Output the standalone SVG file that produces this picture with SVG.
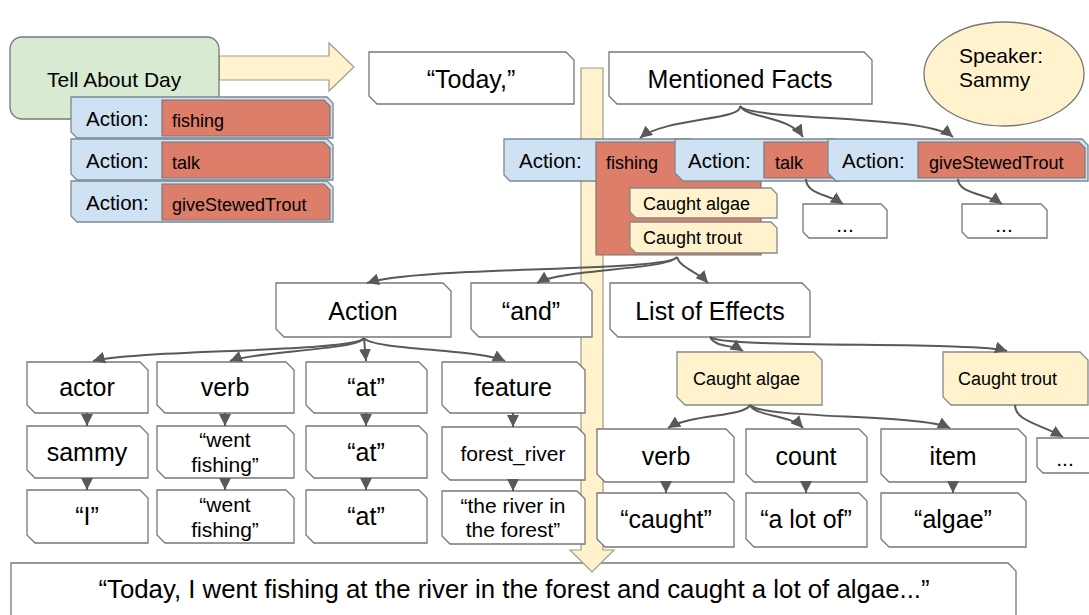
<svg xmlns="http://www.w3.org/2000/svg" width="1089" height="615" viewBox="0 0 1089 615">
  <style>
    .box { fill: #ffffff; stroke: #777777; stroke-width: 1.3; }
    .blue { fill: #cfe2f3; stroke: #7d8790; stroke-width: 1.3; }
    .red { fill: #dd7e6b; stroke: #777777; stroke-width: 1.2; }
    .yel { fill: #fff2cc; stroke: #888888; stroke-width: 1.3; }
    .big { fill: #fff2cc; stroke: #a09a8a; stroke-width: 1.2; }
    text { font-family: "Liberation Sans", Arial, sans-serif; fill: #000000; }
    .t25 { font-size: 25px; text-anchor: middle; }
    .t21 { font-size: 21px; text-anchor: middle; }
    .t20 { font-size: 20.5px; }
    .t18 { font-size: 18px; }
    .edge { fill: none; stroke: #595959; stroke-width: 2; marker-end: url(#head); }
  </style>
  <defs>
    <marker id="head" markerUnits="userSpaceOnUse" markerWidth="13" markerHeight="12" refX="12" refY="6" orient="auto">
      <path d="M0,0 L12,6 L0,12 Z" fill="#595959"/>
    </marker>
  </defs>

  <!-- bottom sentence -->
  <g id="sentence">
    <path class="box" d="M11,563 H1008 L1016,571 V625 H11 Z"/>
    <text x="514" y="598" style="font-size:25.8px;text-anchor:middle">“Today, I went fishing at the river in the forest and caught a lot of algae...”</text>
  </g>

  <!-- big flow arrows -->
  <g id="flow-arrows">
    <polygon class="big" points="581,68 603,68 603,550 614,550 592,572 570,550 581,550"/>
    <polygon class="big" points="219,56 329,56 329,43 354,67 329,91 329,80 219,80"/>
  </g>

  <!-- task -->
  <g id="tell-about-day">
    <rect x="10" y="37" width="209" height="82" rx="12" fill="#d9ead3" stroke="#777777" stroke-width="1.3"/>
    <text x="47" y="87" style="font-size:21px">Tell About Day</text>
  </g>
  <g id="left-action-fishing">
    <path class="blue" d="M71,97 H327 L333,103 V138 H77 L71,132 Z"/>
    <path class="red" d="M162,100 H324 L330,106 V136 H162 Z"/>
    <text class="t20" x="86" y="126">Action:</text>
    <text class="t18" x="172" y="127">fishing</text>
  </g>
  <g id="left-action-talk">
    <path class="blue" d="M71,139 H327 L333,145 V180 H77 L71,174 Z"/>
    <path class="red" d="M162,142 H324 L330,148 V178 H162 Z"/>
    <text class="t20" x="86" y="168">Action:</text>
    <text class="t18" x="172" y="169">talk</text>
  </g>
  <g id="left-action-give">
    <path class="blue" d="M71,181 H327 L333,187 V222 H77 L71,216 Z"/>
    <path class="red" d="M162,184 H324 L330,190 V220 H162 Z"/>
    <text class="t20" x="86" y="210">Action:</text>
    <text class="t18" x="172" y="211">giveStewedTrout</text>
  </g>

  <g id="today">
    <path class="box" d="M369,52 H566 L574,60 V104 H377 L369,96 Z"/>
    <text class="t25" x="471" y="88">“Today,”</text>
  </g>
  <g id="mentioned-facts">
    <path class="box" d="M609,52 H864 L872,60 V104 H617 L609,96 Z"/>
    <text class="t25" x="740" y="88">Mentioned Facts</text>
  </g>
  <g id="speaker">
    <ellipse cx="1004" cy="74" rx="80" ry="52" fill="#fff2cc" stroke="#777777" stroke-width="1.3"/>
    <text x="959" y="63" style="font-size:21px">Speaker:</text>
    <text x="959" y="87" style="font-size:21px">Sammy</text>
  </g>

  <!-- mentioned actions -->
  <g id="fact-fishing">
    <path class="blue" d="M504,139 H690 V181 H510 L504,175 Z"/>
    <path class="red" d="M596,142 H761 V255 H596 Z"/>
    <text class="t20" x="519" y="168">Action:</text>
    <text class="t18" x="606" y="169">fishing</text>
  </g>
  <g id="fact-fishing-algae">
    <path class="yel" d="M630,188 H771 L777,194 V218 H636 L630,212 Z"/>
    <text class="t18" x="643" y="210">Caught algae</text>
  </g>
  <g id="fact-fishing-trout">
    <path class="yel" d="M630,222 H771 L777,228 V253 H636 L630,247 Z"/>
    <text class="t18" x="643" y="244">Caught trout</text>
  </g>
  <g id="fact-talk">
    <path class="blue" d="M675,139 H834 L840,145 V181 H683 L675,173 Z"/>
    <path class="red" d="M764,142 H834 V178 H764 Z"/>
    <text class="t20" x="688" y="168">Action:</text>
    <text class="t18" x="775" y="169">talk</text>
  </g>
  <g id="fact-give">
    <path class="blue" d="M828,139 H1082 L1088,145 V181 H836 L828,173 Z"/>
    <path class="red" d="M918,142 H1079 L1085,148 V178 H918 Z"/>
    <text class="t20" x="842" y="168">Action:</text>
    <text class="t18" x="929" y="169">giveStewedTrout</text>
  </g>
  <g id="talk-more">
    <path class="box" d="M803,204 H881 L887,210 V238 H809 L803,232 Z"/>
    <text class="t21" x="845" y="232">...</text>
  </g>
  <g id="give-more">
    <path class="box" d="M962,204 H1041 L1047,210 V238 H968 L962,232 Z"/>
    <text class="t21" x="1004" y="232">...</text>
  </g>

  <!-- fishing breakdown -->
  <g id="action">
    <path class="box" d="M276,283 H443 L451,291 V337 H284 L276,329 Z"/>
    <text class="t25" x="363" y="320">Action</text>
  </g>
  <g id="and">
    <path class="box" d="M471,283 H584 L592,291 V337 H479 L471,329 Z"/>
    <text class="t25" x="531" y="320">“and”</text>
  </g>
  <g id="list-of-effects">
    <path class="box" d="M610,283 H802 L810,291 V337 H618 L610,329 Z"/>
    <text class="t25" x="710" y="320">List of Effects</text>
  </g>

  <g id="actor">
    <path class="box" d="M27,362 H140 L148,370 V413 H35 L27,405 Z"/>
    <text class="t25" x="87" y="396">actor</text>
  </g>
  <g id="sammy">
    <path class="box" d="M27,426 H140 L148,434 V478 H35 L27,470 Z"/>
    <text class="t25" x="87" y="461">sammy</text>
  </g>
  <g id="i">
    <path class="box" d="M27,490 H140 L148,498 V543 H35 L27,535 Z"/>
    <text class="t25" x="87" y="525">“I”</text>
  </g>

  <g id="verb">
    <path class="box" d="M157,362 H286 L294,370 V413 H165 L157,405 Z"/>
    <text class="t25" x="225" y="396">verb</text>
  </g>
  <g id="went-fishing">
    <path class="box" d="M157,426 H286 L294,434 V478 H165 L157,470 Z"/>
    <text class="t21" x="225" y="447">“went</text>
    <text class="t21" x="225" y="472">fishing”</text>
  </g>
  <g id="went-fishing-text">
    <path class="box" d="M157,490 H286 L294,498 V543 H165 L157,535 Z"/>
    <text class="t21" x="225" y="512">“went</text>
    <text class="t21" x="225" y="537">fishing”</text>
  </g>

  <g id="at">
    <path class="box" d="M306,362 H419 L427,370 V413 H314 L306,405 Z"/>
    <text class="t25" x="366" y="396">“at”</text>
  </g>
  <g id="at-word">
    <path class="box" d="M306,426 H419 L427,434 V478 H314 L306,470 Z"/>
    <text class="t25" x="366" y="461">“at”</text>
  </g>
  <g id="at-text">
    <path class="box" d="M306,490 H419 L427,498 V543 H314 L306,535 Z"/>
    <text class="t25" x="366" y="525">“at”</text>
  </g>

  <g id="feature">
    <path class="box" d="M442,362 H577 L585,370 V413 H450 L442,405 Z"/>
    <text class="t25" x="513" y="396">feature</text>
  </g>
  <g id="forest-river">
    <path class="box" d="M442,427 H577 L585,435 V480 H450 L442,472 Z"/>
    <text class="t21" x="513" y="461">forest_river</text>
  </g>
  <g id="river-in-forest">
    <path class="box" d="M442,491 H577 L585,499 V544 H450 L442,536 Z"/>
    <text class="t21" x="513" y="513">“the river in</text>
    <text class="t21" x="513" y="537">the forest”</text>
  </g>

  <!-- effects -->
  <g id="effect-algae">
    <path class="yel" d="M677,352 H814 L822,360 V405 H685 L677,397 Z"/>
    <text class="t18" x="693" y="385">Caught algae</text>
  </g>
  <g id="effect-trout">
    <path class="yel" d="M943,352 H1080 L1088,360 V405 H951 L943,397 Z"/>
    <text class="t18" x="958" y="385">Caught trout</text>
  </g>
  <g id="effect-verb">
    <path class="box" d="M597,429 H726 L734,437 V482 H605 L597,474 Z"/>
    <text class="t25" x="666" y="465">verb</text>
  </g>
  <g id="effect-caught">
    <path class="box" d="M597,493 H726 L734,501 V547 H605 L597,539 Z"/>
    <text class="t25" x="666" y="528">“caught”</text>
  </g>
  <g id="effect-count">
    <path class="box" d="M746,429 H859 L867,437 V482 H754 L746,474 Z"/>
    <text class="t25" x="806" y="465">count</text>
  </g>
  <g id="effect-lot">
    <path class="box" d="M746,493 H859 L867,501 V547 H754 L746,539 Z"/>
    <text class="t25" x="806" y="528">“a lot of”</text>
  </g>
  <g id="effect-item">
    <path class="box" d="M881,429 H1018 L1026,437 V482 H889 L881,474 Z"/>
    <text class="t25" x="953" y="465">item</text>
  </g>
  <g id="effect-algae-word">
    <path class="box" d="M881,493 H1018 L1026,501 V547 H889 L881,539 Z"/>
    <text class="t25" x="953" y="528">“algae”</text>
  </g>
  <g id="trout-more">
    <path class="box" d="M1037,438 H1092 L1098,444 V473 H1043 L1037,467 Z"/>
    <text class="t21" x="1065" y="466">...</text>
  </g>

  <!-- connectors -->
  <g id="connectors">
    <path class="edge" d="M740,106 C744,120 664,118 640,138"/>
    <path class="edge" d="M740,106 C746,118 790,116 803,137"/>
    <path class="edge" d="M740,106 C750,121 925,114 953,137"/>
    <path class="edge" d="M806,179 C806,194 828,194 843,204"/>
    <path class="edge" d="M958,179 C958,194 988,194 1002,204"/>

    <path class="edge" d="M677,257 C668,272 420,266 367,283"/>
    <path class="edge" d="M677,257 C668,270 560,269 537,283"/>
    <path class="edge" d="M677,257 C680,268 698,272 708,283"/>

    <path class="edge" d="M364,338 C358,352 130,350 93,361"/>
    <path class="edge" d="M364,338 C360,350 255,351 230,361"/>
    <path class="edge" d="M364,338 L366,361"/>
    <path class="edge" d="M364,338 C372,350 480,349 505,361"/>

    <path class="edge" d="M87,413 L87,426"/>
    <path class="edge" d="M87,478 L87,490"/>
    <path class="edge" d="M225,413 L225,426"/>
    <path class="edge" d="M225,478 L225,490"/>
    <path class="edge" d="M366,413 L366,426"/>
    <path class="edge" d="M366,478 L366,490"/>
    <path class="edge" d="M513,413 L513,427"/>
    <path class="edge" d="M513,480 L513,491"/>

    <path class="edge" d="M710,337 C716,348 732,344 743,351"/>
    <path class="edge" d="M710,337 C722,349 975,341 1007,351"/>

    <path class="edge" d="M750,405 C745,417 690,414 668,428"/>
    <path class="edge" d="M750,405 C756,417 790,414 803,428"/>
    <path class="edge" d="M750,405 C762,419 920,414 950,428"/>
    <path class="edge" d="M1015,405 C1015,421 1040,424 1063,437"/>

    <path class="edge" d="M666,482 L666,493"/>
    <path class="edge" d="M806,482 L806,493"/>
    <path class="edge" d="M953,482 L953,493"/>
  </g>
</svg>
